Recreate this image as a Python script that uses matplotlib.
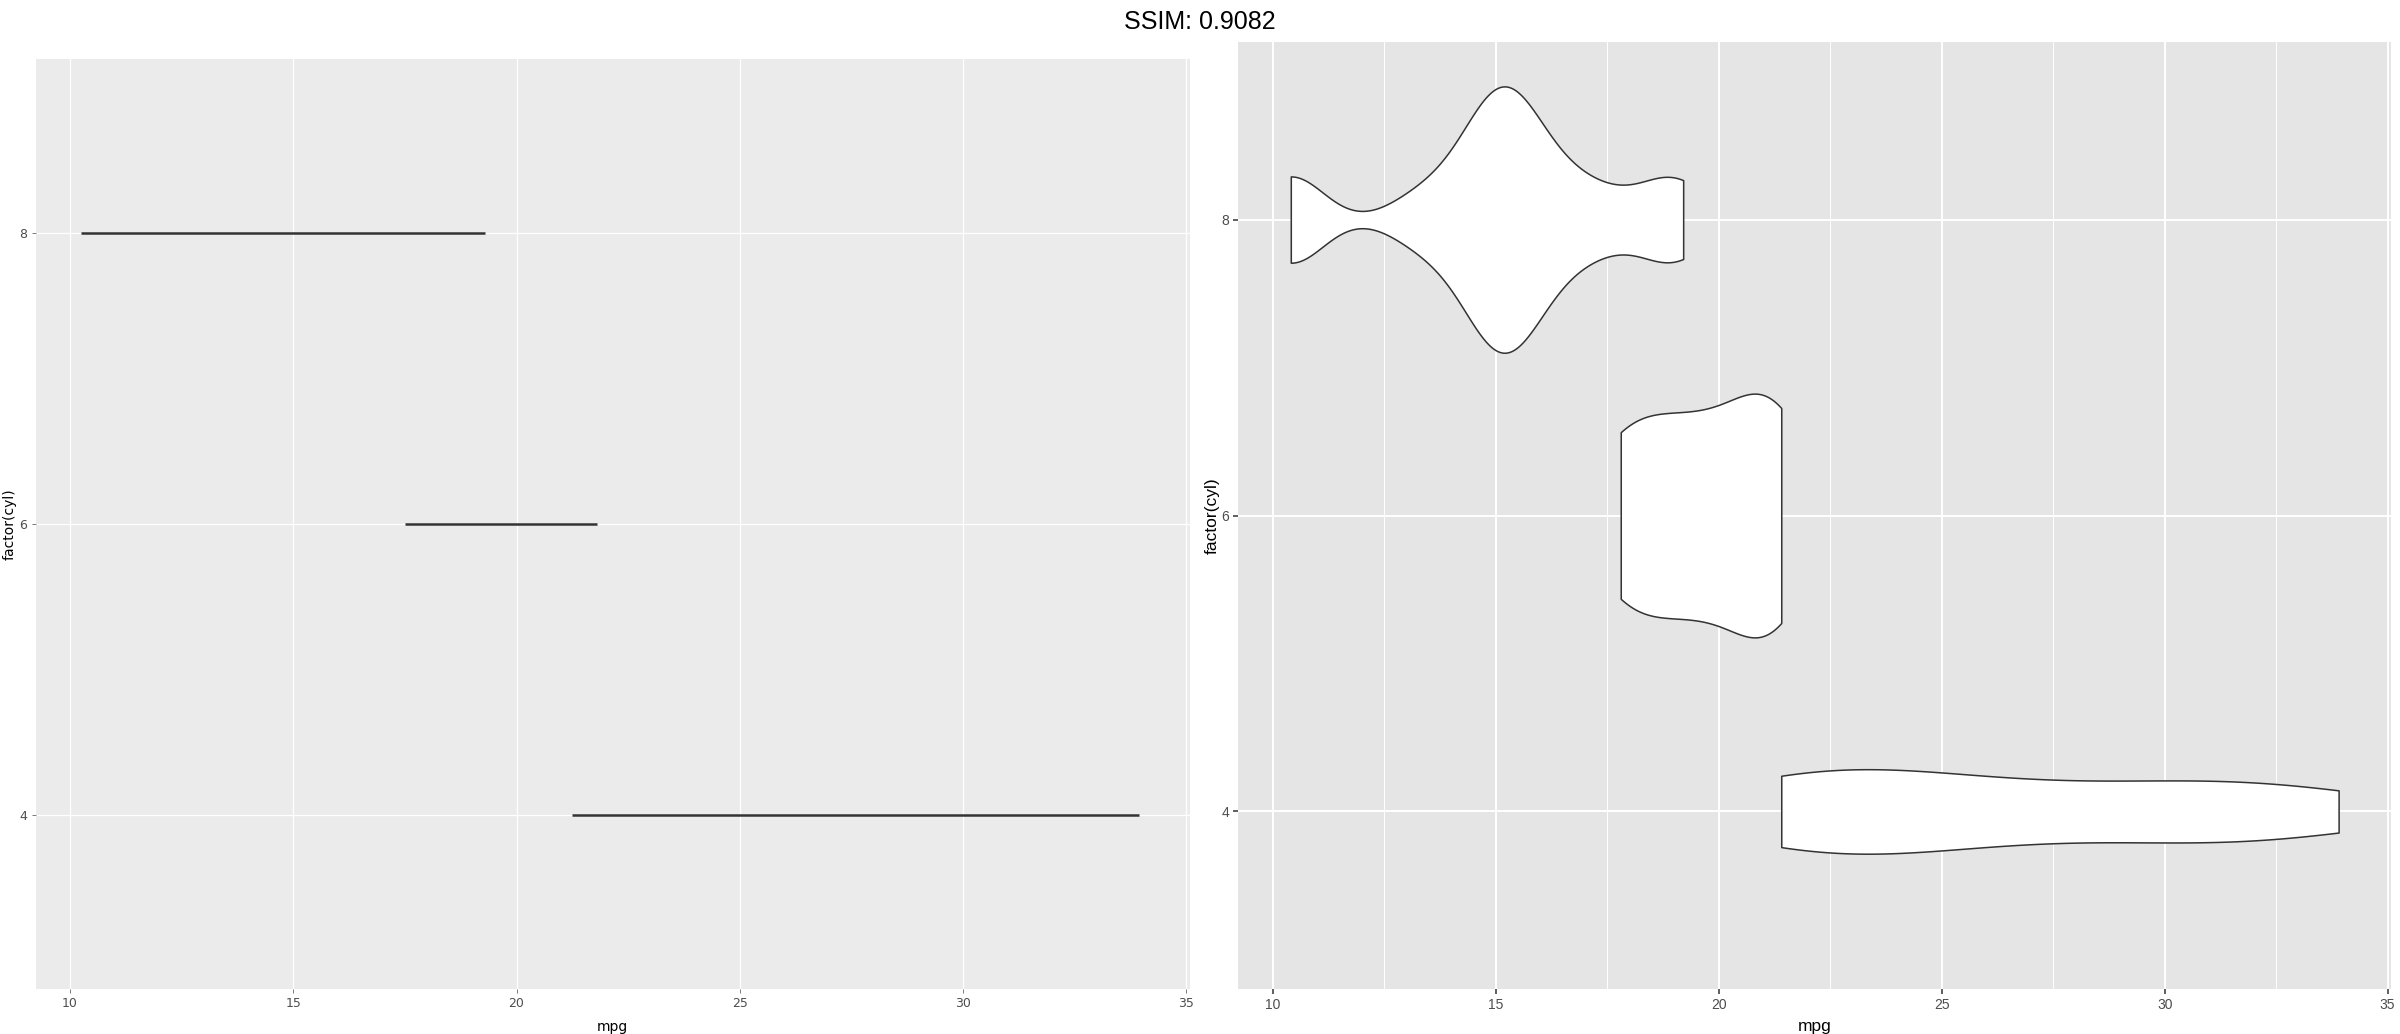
import numpy as np
import matplotlib
matplotlib.use("Agg")
import matplotlib.pyplot as plt
from matplotlib import cbook, mlab
from matplotlib.ticker import MultipleLocator

# mtcars mpg, split by cylinder count
cyl = [4, 6, 8]
mpg_4 = [22.8, 24.4, 22.8, 32.4, 30.4, 33.9, 21.5, 27.3, 26.0, 30.4, 21.4]
mpg_6 = [21.0, 21.0, 21.4, 18.1, 19.2, 17.8, 19.7]
mpg_8 = [18.7, 14.3, 16.4, 17.3, 15.2, 10.4, 10.4, 14.7, 15.5, 15.2, 13.3,
         19.2, 15.8, 15.0]
groups = [mpg_4, mpg_6, mpg_8]

# left panel: flat segments (cyl 4, 6, 8)
seg_start = [21.25, 17.5, 10.25]
seg_end = [33.95, 21.8, 19.3]

x_ticks = [10, 15, 20, 25, 30, 35]
title = "SSIM: 0.9082"


def nrd0(x):
    # R's default bandwidth
    x = np.asarray(x, dtype=float)
    sd = np.std(x, ddof=1)
    q75, q25 = np.percentile(x, [75, 25])
    lo = min(sd, (q75 - q25) / 1.34)
    if lo == 0:
        lo = sd if sd else 1.0
    return 0.9 * lo * len(x) ** -0.2


def kde(x, coords):
    x = np.asarray(x, dtype=float)
    k = mlab.GaussianKDE(x, bw_method=nrd0(x) / np.std(x, ddof=1))
    return k.evaluate(coords)


W, H = 2400, 1034
fig = plt.figure(figsize=(W / 100, H / 100), dpi=100)

xlim = (9.225, 35.075)
ylim = (2.8, 9.2)

# ---- left panel: flat lines ----
axL = fig.add_axes([35.5 / W, 1 - 989 / H, 1154 / W, 930 / H])
axL.set_facecolor("#EBEBEB")
axL.hlines(cyl, seg_start, seg_end, color="#333333", lw=1.8, zorder=3)
axL.set_xlim(*xlim)
axL.set_ylim(*ylim)
axL.set_xticks(x_ticks)
axL.set_yticks(cyl)
axL.grid(True, color="white", lw=0.9)
axL.set_axisbelow(True)
for s in axL.spines.values():
    s.set_visible(False)
axL.tick_params(length=3, width=0.6, color="#666666", labelcolor="#4D4D4D",
                labelsize=9, pad=3)
axL.set_xlabel("mpg", fontsize=10, color="black")
axL.set_ylabel("factor(cyl)", fontsize=10, color="black")
axL.xaxis.set_label_coords(0.5, -(1027 - 989) / 930)
axL.xaxis.label.set_va("center")
axL.yaxis.set_label_coords((10 - 35.5) / 1154, 0.5)
axL.yaxis.label.set_va("center")

# ---- right panel: violins ----
fam = "Liberation Sans"
axR = fig.add_axes([1238.4 / W, 1 - 989 / H, 1152.6 / W, 947 / H])
axR.set_facecolor("#E5E5E5")
stats = cbook.violin_stats(groups, kde, points=512)
gmax = max(s["vals"].max() for s in stats)
widths = [1.8 * s["vals"].max() / gmax for s in stats]
parts = axR.violin(stats, positions=cyl, orientation="horizontal",
                   widths=widths, showextrema=False)
for b in parts["bodies"]:
    b.set_facecolor("white")
    b.set_edgecolor("#333333")
    b.set_alpha(1)
    b.set_linewidth(1.1)
    b.set_zorder(3)
axR.set_xlim(*xlim)
axR.set_ylim(*ylim)
axR.set_xticks(x_ticks)
axR.set_yticks(cyl)
axR.xaxis.set_minor_locator(MultipleLocator(2.5))
axR.grid(True, which="major", color="white", lw=1.4)
axR.grid(True, which="minor", axis="x", color="white", lw=0.7)
axR.set_axisbelow(True)
for s in axR.spines.values():
    s.set_visible(False)
axR.tick_params(which="major", length=3.5, width=1.1, color="#333333",
                labelcolor="#4D4D4D", labelsize=10, pad=3)
axR.tick_params(which="minor", length=0)
for lab in axR.get_xticklabels() + axR.get_yticklabels():
    lab.set_fontfamily(fam)
axR.set_xlabel("mpg", fontsize=12.5, family=fam, color="black")
axR.set_ylabel("factor(cyl)", fontsize=12.5, family=fam, color="black")
axR.xaxis.set_label_coords(0.5, -(1027 - 989) / 947)
axR.xaxis.label.set_va("center")
axR.yaxis.set_label_coords((1212 - 1238.4) / 1152.6, 0.5)
axR.yaxis.label.set_va("center")

fig.text(0.5, 1 - 22 / H, title, ha="center", va="center", fontsize=18,
         family=fam)

fig.savefig("out.png", dpi=100)
